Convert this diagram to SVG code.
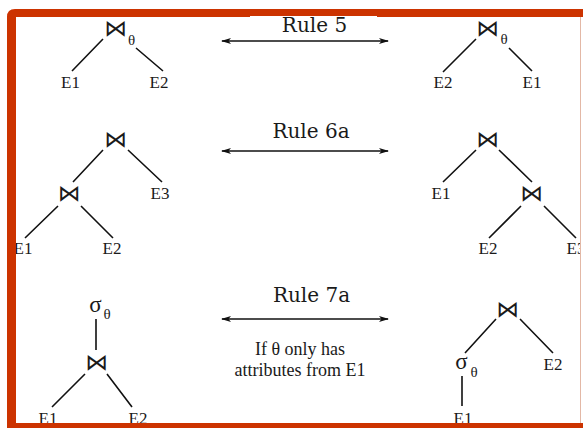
<svg xmlns="http://www.w3.org/2000/svg" width="583" height="428" viewBox="0 0 583 428">
<style>
.e{font-family:"Liberation Serif","Times New Roman",serif;font-size:17px;fill:#1a1a1a;text-anchor:middle}
.j{font-family:"DejaVu Sans",sans-serif;font-size:23px;fill:#1a1a1a;text-anchor:middle}
.s{font-family:"Liberation Serif","Times New Roman",serif;font-size:23px;fill:#1a1a1a;text-anchor:middle}
.t{font-family:"Liberation Serif","Times New Roman",serif;font-size:15px;fill:#1a1a1a;text-anchor:middle}
.r{font-family:"DejaVu Serif",serif;font-size:20px;fill:#1a1a1a;text-anchor:middle}
.n{font-family:"Liberation Serif","Times New Roman",serif;font-size:18px;fill:#1a1a1a;text-anchor:middle}
.l{stroke:#111;stroke-width:1.6;fill:none}
.a{stroke:#111;stroke-width:1.3;fill:none;marker-start:url(#h);marker-end:url(#h)}
</style>
<defs>
<marker id="h" viewBox="0 0 10 6" refX="9" refY="3" markerWidth="10" markerHeight="6" markerUnits="userSpaceOnUse" orient="auto-start-reverse">
<path d="M0,0 L10,3 L0,6 L2.5,3 Z" fill="#111"/>
</marker>
</defs>
<rect width="583" height="428" fill="#fff"/>
<g id="connectors">
<path class="l" d="M103,39 L72,71 M136,48 L163,71"/>
<path class="l" d="M476,39 L443,72 M509,48 L532,71"/>
<path class="l" d="M103,150 L73,182 M128,150 L162,182 M58,206 L25,238 M81,206 L113,238"/>
<path class="l" d="M476,150 L443,182 M499,150 L532,182 M521,206 L489,238 M544,206 L576,238"/>
<path class="l" d="M96,319 L96,350 M85,374 L52,407 M107,374 L132,407"/>
<path class="l" d="M496,319 L465,353 M520,319 L553,353 M462,376 L462,406"/>
<line class="a" x1="222" y1="41" x2="388" y2="41"/>
<line class="a" x1="222" y1="151" x2="388" y2="151"/>
<line class="a" x1="222" y1="319" x2="388" y2="319"/>
</g>
<g id="rule5-left">
<text class="j" x="116" y="36">⋈</text>
<text class="t" x="131.5" y="45">θ</text>
<text class="e" x="70.5" y="88">E1</text>
<text class="e" x="159" y="88">E2</text>
</g>
<g id="rule5-right">
<text class="j" x="488" y="36">⋈</text>
<text class="t" x="504" y="44">θ</text>
<text class="e" x="443" y="88">E2</text>
<text class="e" x="532" y="88">E1</text>
</g>
<g id="rule6a-left">
<text class="j" x="116" y="147">⋈</text>
<text class="e" x="160" y="199">E3</text>
<text class="j" x="69.5" y="201">⋈</text>
<text class="e" x="23" y="254">E1</text>
<text class="e" x="112" y="254">E2</text>
</g>
<g id="rule6a-right">
<text class="j" x="488" y="147">⋈</text>
<text class="e" x="441" y="199">E1</text>
<text class="j" x="532" y="201">⋈</text>
<text class="e" x="488" y="254">E2</text>
<text class="e" x="576" y="254">E3</text>
</g>
<g id="rule7a-left">
<text class="s" x="95.5" y="312">σ</text>
<text class="t" x="107" y="319">θ</text>
<text class="j" x="97" y="370">⋈</text>
<text class="e" x="48" y="424">E1</text>
<text class="e" x="138" y="424">E2</text>
</g>
<g id="rule7a-right">
<text class="j" x="508" y="317">⋈</text>
<text class="s" x="461.5" y="369">σ</text>
<text class="t" x="474" y="377">θ</text>
<text class="e" x="553" y="370">E2</text>
<text class="e" x="463" y="424">E1</text>
</g>
<g id="frame">
<path d="M7,428 L7,17 Q7,9 15,9 L583,9 L583,17 L16,17 L16,428 Z" fill="#cc3300"/>
<rect x="16" y="423" width="567" height="5" fill="#cc3300"/>
<rect x="581" y="17" width="2" height="406" fill="#fff"/>
<line x1="580.5" y1="17" x2="580.5" y2="423" stroke="#e3b8a6" stroke-width="1"/>
</g>
<g id="labels">
<rect x="250" y="16" width="127" height="20" fill="#fff"/>
<text class="r" x="314.5" y="32">Rule 5</text>
<text class="r" x="311" y="138">Rule 6a</text>
<text class="r" x="311.5" y="302">Rule 7a</text>
<text class="n" x="300" y="355">If θ only has</text>
<text class="n" x="300" y="376">attributes from E1</text>
</g>
</svg>
